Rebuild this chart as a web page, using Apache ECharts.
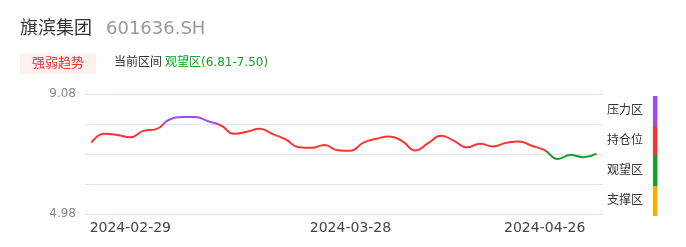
<!DOCTYPE html>
<html>
<head>
<meta charset="utf-8">
<script src="https://cdn.jsdelivr.net/npm/echarts@6/dist/echarts.min.js"></script>
<style>
html,body{margin:0;padding:0;background:#fff;}
#chart{width:686px;height:247px;}
</style>
</head>
<body>
<div id="chart"></div>
<script>
// ---- data ----
const stockName = '旗滨集团';
const stockCode = '601636.SH';
const tagText = '强弱趋势';
const rangeLabel = '当前区间';
const rangeValue = '观望区(6.81-7.50)';

const dates = [
  '2024-02-26','2024-02-27','2024-02-28','2024-02-29','2024-03-01',
  '2024-03-04','2024-03-05','2024-03-06','2024-03-07','2024-03-08',
  '2024-03-11','2024-03-12','2024-03-13','2024-03-14','2024-03-15',
  '2024-03-18','2024-03-19','2024-03-20','2024-03-21','2024-03-22',
  '2024-03-28','2024-03-29','2024-04-01','2024-04-02','2024-04-03',
  '2024-04-08','2024-04-09','2024-04-10','2024-04-11','2024-04-12',
  '2024-04-15','2024-04-16','2024-04-17','2024-04-18','2024-04-19',
  '2024-04-26','2024-04-29','2024-04-30','2024-05-06','2024-05-07'
];
const values = [
  7.42, 7.72, 7.68, 7.60, 7.82, 7.88, 8.20, 8.29, 8.29, 8.15,
  8.01, 7.72, 7.79, 7.89, 7.71, 7.53, 7.26, 7.24, 7.34, 7.16,
  7.14, 7.42, 7.55, 7.63, 7.47, 7.15, 7.40, 7.65, 7.48, 7.26,
  7.38, 7.29, 7.41, 7.46, 7.31, 7.16, 6.86, 7.00, 6.92, 7.04
];
const xTickLabels = ['2024-02-29', '2024-03-28', '2024-04-26'];
const yTickLabels = ['9.08', '4.98'];
const yMin = 4.98, yMax = 9.08, ySplits = 4;

const zoneNames = ['压力区', '持仓位', '观望区', '支撑区'];
const zoneColors = ['#a14cf2', '#fa3434', '#14a02a', '#fdab00'];
const zoneBounds = [8.06, 7.10, 6.50]; // line colour thresholds

const FONT = "'DejaVu Sans', 'Noto Sans CJK SC', sans-serif";

function txt(x, y, text, size, color) {
  return {type: 'text', x: x, y: y,
    style: {text: text, fontSize: size, fill: color, fontFamily: FONT, align: 'left', verticalAlign: 'middle'}};
}

// ---- chart ----
const chart = echarts.init(document.getElementById('chart'), null, {renderer: 'canvas'});
const option = {
  animation: false,
  backgroundColor: '#fff',
  textStyle: {fontFamily: FONT},
  graphic: [
    txt(20, 29, stockName, 18, '#333'),
    txt(106, 29, stockCode, 18, '#999'),
    {type: 'rect', x: 20, y: 53, shape: {width: 76, height: 21}, style: {fill: '#fff1ee'}},
    txt(32, 63.5, tagText, 13, '#f0302c'),
    txt(114, 63, rangeLabel, 12, '#333'),
    txt(165, 63, rangeValue, 12, '#14a02a')
  ],
  grid: {left: 85, right: 83, top: 94, bottom: 33},
  xAxis: {
    type: 'category',
    data: dates,
    boundaryGap: true,
    axisLine: {show: false},
    axisTick: {show: false},
    axisLabel: {
      interval: (i, v) => xTickLabels.includes(v),
      color: '#444',
      fontSize: 14,
      fontFamily: FONT,
      margin: 7
    },
    splitLine: {show: false}
  },
  yAxis: {
    type: 'value',
    min: yMin,
    max: yMax,
    interval: (yMax - yMin) / ySplits,
    axisLine: {show: false},
    axisTick: {show: false},
    axisLabel: {
      color: '#888',
      fontSize: 12,
      fontFamily: FONT,
      margin: 9,
      formatter: v => { const s = v.toFixed(2); return yTickLabels.includes(s) ? s : ''; }
    },
    splitLine: {lineStyle: {color: '#e0e6f1'}}
  },
  visualMap: {
    type: 'piecewise',
    seriesIndex: 0,
    dimension: 1,
    orient: 'vertical',
    left: 592,
    top: 81,
    align: 'right',
    itemWidth: 4.5,
    itemHeight: 30,
    itemGap: 0,
    itemSymbol: 'rect',
    textGap: 10,
    selectedMode: false,
    hoverLink: false,
    textStyle: {color: '#333', fontSize: 12, fontFamily: FONT, padding: [3, 0, 0, 0]},
    pieces: [
      {gt: zoneBounds[0], label: zoneNames[0], color: zoneColors[0]},
      {gt: zoneBounds[1], lte: zoneBounds[0], label: zoneNames[1], color: zoneColors[1]},
      {gt: zoneBounds[2], lte: zoneBounds[1], label: zoneNames[2], color: zoneColors[2]},
      {lte: zoneBounds[2], label: zoneNames[3], color: zoneColors[3]}
    ]
  },
  series: [{
    type: 'line',
    data: values,
    smooth: true,
    showSymbol: false,
    lineStyle: {width: 2}
  }]
};
chart.setOption(option);
</script>
</body>
</html>
